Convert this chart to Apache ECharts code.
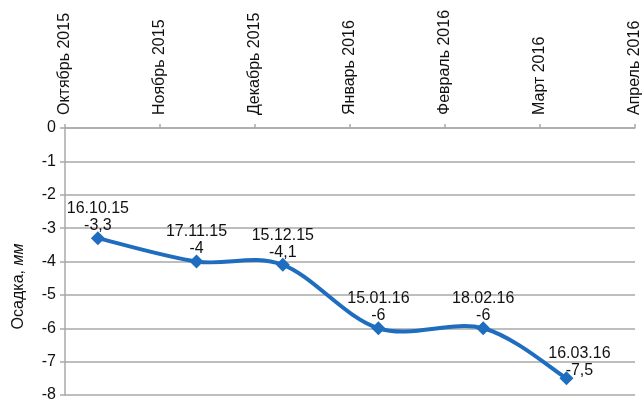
<!DOCTYPE html>
<html>
<head>
<meta charset="utf-8">
<script src="https://cdn.jsdelivr.net/npm/echarts@6/dist/echarts.min.js"></script>
<style>
  html, body { margin: 0; padding: 0; background: #fff; }
  #chart { width: 643px; height: 403px; }
</style>
</head>
<body>
<div id="chart"></div>
<script>
// Month captions along the top axis
const monthLabels = ['Октябрь 2015', 'Ноябрь 2015', 'Декабрь 2015', 'Январь 2016',
                     'Февраль 2016', 'Март 2016', 'Апрель 2016'];
// Survey dates and measured settlement, mm
const surveyDates = ['2015-10-16', '2015-11-17', '2015-12-15', '2016-01-15', '2016-02-18', '2016-03-16'];
const dateLabels = ['16.10.15', '17.11.15', '15.12.15', '15.01.16', '18.02.16', '16.03.16'];
const settlement = [-3.3, -4, -4.1, -6, -6, -7.5];
// Y axis range
const yMin = -8, yMax = 0, yStep = 1;
// Time window covered by the plot
const timeFrom = '2015-10-05T08:00:00';
const timeTo = '2016-04-07T06:00:00';

const font = 'Liberation Sans, Arial, sans-serif';
const gridColor = '#a9a9a9';
const lineColor = '#1f6dbf';

const toTime = s => new Date(s.length === 10 ? s + 'T00:00:00' : s).getTime();
const times = surveyDates.map(toTime);
const points = times.map((t, i) => [t, settlement[i]]);

// Catmull-Rom style smoothing: each item draws the segment to the next point
function renderSegment(params, api) {
  const i = params.dataIndex;
  if (i >= points.length - 1) return null;
  const c = k => api.coord(points[Math.max(0, Math.min(points.length - 1, k))]);
  const p0 = c(i - 1), p1 = c(i), p2 = c(i + 1), p3 = c(i + 2);
  const t = 1 / 6;
  return {
    type: 'bezierCurve',
    shape: {
      x1: p1[0], y1: p1[1],
      cpx1: p1[0] + (p2[0] - p0[0]) * t, cpy1: p1[1] + (p2[1] - p0[1]) * t,
      cpx2: p2[0] - (p3[0] - p1[0]) * t, cpy2: p2[1] - (p3[1] - p1[1]) * t,
      x2: p2[0], y2: p2[1]
    },
    style: { stroke: lineColor, lineWidth: 4, fill: null, lineCap: 'round' }
  };
}

const markerData = points.map((p, i) => {
  const item = { value: p };
  if (i === points.length - 1) item.label = { offset: [13, 5] };
  return item;
});

const chart = echarts.init(document.getElementById('chart'));
chart.setOption({
  backgroundColor: '#fff',
  animation: false,
  grid: { left: 65, right: 5, top: 128, bottom: 3 },
  xAxis: [
    {
      type: 'category',
      position: 'top',
      data: monthLabels,
      boundaryGap: false,
      axisLine: { show: true, lineStyle: { color: gridColor, width: 1.5 } },
      axisTick: { show: true, length: 4, lineStyle: { color: gridColor, width: 1.5 } },
      axisLabel: { rotate: 90, margin: 13, fontFamily: font, fontSize: 16, color: '#111' },
      splitLine: { show: false }
    },
    {
      type: 'time',
      show: false,
      min: toTime(timeFrom),
      max: toTime(timeTo)
    }
  ],
  yAxis: {
    type: 'value',
    min: yMin,
    max: yMax,
    interval: yStep,
    name: '{n|Осадка, }{i|мм}',
    nameLocation: 'middle',
    nameGap: 38,
    nameTextStyle: {
      padding: [0, 50, 0, 0],
      rich: {
        n: { fontFamily: font, fontSize: 16, color: '#111' },
        i: { fontFamily: font, fontSize: 16, color: '#111', fontStyle: 'italic' }
      }
    },
    axisLine: { show: true, lineStyle: { color: gridColor, width: 1.5 } },
    axisTick: { show: true, length: 5, lineStyle: { color: gridColor, width: 1.5 } },
    axisLabel: { margin: 9, fontFamily: font, fontSize: 16, color: '#111' },
    splitLine: { show: true, lineStyle: { color: gridColor, width: 1.5 } }
  },
  series: [
    {
      type: 'custom',
      xAxisIndex: 1,
      data: points,
      renderItem: renderSegment,
      silent: true,
      z: 2
    },
    {
      type: 'scatter',
      xAxisIndex: 1,
      data: markerData,
      symbol: 'diamond',
      symbolSize: 14,
      itemStyle: { color: lineColor, opacity: 1 },
      z: 3,
      label: {
        show: true,
        position: 'top',
        distance: -3,
        fontFamily: font,
        fontSize: 16,
        lineHeight: 17,
        color: '#111',
        formatter: p => dateLabels[p.dataIndex] + '\n' + String(settlement[p.dataIndex]).replace('.', ',')
      }
    }
  ]
});
</script>
</body>
</html>
